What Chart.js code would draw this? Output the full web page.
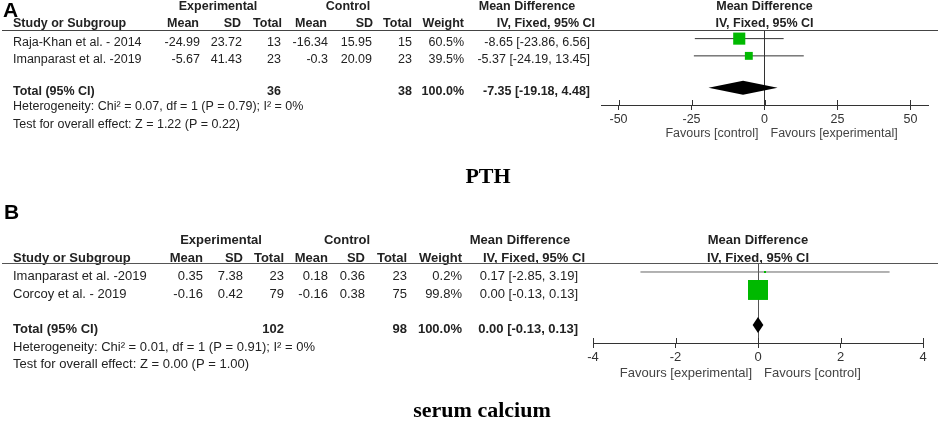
<!DOCTYPE html>
<html>
<head>
<meta charset="utf-8">
<script src="https://cdn.jsdelivr.net/npm/chart.js"></script>
<style>
  html, body { margin: 0; padding: 0; background: #fff; }
  #wrap { position: relative; width: 941px; height: 424px; }
  #wrap canvas { position: absolute; left: 0; top: 0; }
</style>
</head>
<body>
<div id="wrap">
  <canvas id="chartA" width="941" height="424"></canvas>
  <canvas id="chartB" width="941" height="424"></canvas>
</div>
<script>
// Panel A: PTH
const studiesA = ["Raja-Khan et al. - 2014", "Imanparast et al. -2019"];
const expMeanA = [-24.99, -5.67];
const expSdA = [23.72, 41.43];
const expNA = [13, 23];
const ctlMeanA = [-16.34, -0.3];
const ctlSdA = [15.95, 20.09];
const ctlNA = [15, 23];
const weightA = [60.5, 39.5];
const mdA = [-8.65, -5.37];
const loA = [-23.86, -24.19];
const hiA = [6.56, 13.45];
const pooledA = [-7.35, -19.18, 4.48]; // estimate, lower, upper
const ticksA = [-50, -25, 0, 25, 50];
const favoursA = ["Favours [control]", "Favours [experimental]"];
const hetA = "Heterogeneity: Chi² = 0.07, df = 1 (P = 0.79); I² = 0%";
const testA = "Test for overall effect: Z = 1.22 (P = 0.22)";

// Panel B: serum calcium
const studiesB = ["Imanparast et al. -2019", "Corcoy et al. - 2019"];
const expMeanB = [0.35, -0.16];
const expSdB = [7.38, 0.42];
const expNB = [23, 79];
const ctlMeanB = [0.18, -0.16];
const ctlSdB = [0.36, 0.38];
const ctlNB = [23, 75];
const weightB = [0.2, 99.8];
const mdB = [0.17, 0.00];
const loB = [-2.85, -0.13];
const hiB = [3.19, 0.13];
const pooledB = [0.00, -0.13, 0.13];
const ticksB = [-4, -2, 0, 2, 4];
const favoursB = ["Favours [experimental]", "Favours [control]"];
const hetB = "Heterogeneity: Chi² = 0.01, df = 1 (P = 0.91); I² = 0%";
const testB = "Test for overall effect: Z = 0.00 (P = 1.00)";

const colHeads = ["Mean", "SD", "Total", "Mean", "SD", "Total", "Weight", "IV, Fixed, 95% CI"];

const FONT = "'Liberation Sans', Arial, sans-serif";
const SERIF = "'Liberation Serif', 'Times New Roman', serif";
const W = 941, H = 424;

const sum = a => a.reduce((s, v) => s + v, 0);
const ci = (m, lo, hi) => m.toFixed(2) + " [" + lo.toFixed(2) + ", " + hi.toFixed(2) + "]";

// table text, diamond and the bits chart.js can't draw itself
function decor(d, L) {
  return {
    id: "decor",
    afterDatasetsDraw(chart) {
      const ctx = chart.ctx, xs = chart.scales.x, ys = chart.scales.y;
      const area = chart.chartArea;
      const txt = (s, x, y, align, bold, size, color, fam) => {
        ctx.font = (bold ? "bold " : "") + (size || L.font) + "px " + (fam || FONT);
        ctx.textAlign = align;
        ctx.fillStyle = color || "#222";
        ctx.fillText(s, x, y);
      };
      ctx.save();
      ctx.textBaseline = "middle";
      const x0 = xs.getPixelForValue(0);

      txt(d.letter, L.letterX, L.letterY, "left", true, 21, "#000");

      txt("Experimental", L.grpX[0], L.grpY, "center", true);
      txt("Control", L.grpX[1], L.grpY, "center", true);
      txt("Mean Difference", L.grpX[2], L.grpY, "center", true);
      txt("Mean Difference", x0, L.grpY, "center", true);

      txt("Study or Subgroup", L.left, L.hdrY, "left", true);
      colHeads.forEach((h, i) => txt(h, L.hdrRight[i], L.hdrY, "right", true));
      txt("IV, Fixed, 95% CI", x0, L.hdrY, "center", true);

      ctx.strokeStyle = L.rule;
      ctx.lineWidth = 1;
      ctx.beginPath();
      ctx.moveTo(2, Math.round(area.top) + 0.5);
      ctx.lineTo(938, Math.round(area.top) + 0.5);
      ctx.stroke();

      d.studies.forEach((s, i) => {
        const y = ys.getPixelForValue(L.rows[i]) + L.textDy;
        txt(s, L.left, y, "left", false);
        const cells = [
          String(d.expMean[i]), String(d.expSd[i]), String(d.expN[i]),
          String(d.ctlMean[i]), String(d.ctlSd[i]), String(d.ctlN[i]),
          d.weight[i].toFixed(1) + "%", ci(d.md[i], d.lo[i], d.hi[i])
        ];
        cells.forEach((c, j) => txt(c, L.colRight[j], y, "right", false));
      });

      const ty = ys.getPixelForValue(L.totalRow) + L.textDy;
      txt("Total (95% CI)", L.left, ty, "left", true);
      txt(String(sum(d.expN)), L.colRight[2], ty, "right", true);
      txt(String(sum(d.ctlN)), L.colRight[5], ty, "right", true);
      txt(sum(d.weight).toFixed(1) + "%", L.colRight[6], ty, "right", true);
      txt(ci(d.pooled[0], d.pooled[1], d.pooled[2]), L.colRight[7], ty, "right", true);

      txt(d.het, L.left, L.hetY, "left", false);
      txt(d.test, L.left, L.testY, "left", false);

      // pooled diamond
      const cy = ys.getPixelForValue(L.totalRow);
      ctx.fillStyle = "#000";
      ctx.beginPath();
      ctx.moveTo(xs.getPixelForValue(d.pooled[1]), cy);
      ctx.lineTo(xs.getPixelForValue(d.pooled[0]), cy - L.dia);
      ctx.lineTo(xs.getPixelForValue(d.pooled[2]), cy);
      ctx.lineTo(xs.getPixelForValue(d.pooled[0]), cy + L.dia);
      ctx.closePath();
      ctx.fill();

      // upper half of the axis ticks
      ctx.strokeStyle = "#333";
      d.ticks.forEach(v => {
        const x = Math.round(xs.getPixelForValue(v)) + 0.5;
        ctx.beginPath();
        ctx.moveTo(x, area.bottom - 5);
        ctx.lineTo(x, area.bottom);
        ctx.stroke();
      });

      txt(d.favours[0], x0 - 6, L.favY, "right", false, L.font, "#444");
      txt(d.favours[1], x0 + 6, L.favY, "left", false, L.font, "#444");

      txt(d.title, L.titleX, L.titleY, "center", true, 22, "#000", SERIF);
      ctx.restore();
    }
  };
}

function forest(id, d, L) {
  const datasets = [{
    type: "scatter",
    data: d.md.map((m, i) => ({ x: m, y: L.rows[i] })),
    pointStyle: "rect",
    pointRadius: c => Math.max(2, d.weight[c.dataIndex] * 0.2) / Math.SQRT2,
    backgroundColor: "#00b900",
    borderWidth: 0,
    order: 0
  }];
  d.lo.forEach((lo, i) => datasets.push({
    type: "line",
    data: [{ x: lo, y: L.rows[i] }, { x: d.hi[i], y: L.rows[i] }],
    borderColor: L.ciColor,
    borderWidth: 1,
    pointRadius: 0,
    order: 1
  }));

  new Chart(id, {
    data: { datasets: datasets },
    options: {
      responsive: false,
      animation: false,
      events: [],
      layout: { padding: { left: L.left0, right: W - L.right0, top: L.top0, bottom: H - L.axisY - 20 } },
      plugins: { legend: { display: false }, tooltip: { enabled: false } },
      scales: {
        x: {
          type: "linear",
          min: L.xMin,
          max: L.xMax,
          afterBuildTicks: s => { s.ticks = d.ticks.map(v => ({ value: v })); },
          afterFit: s => { s.height = 20; },
          border: { display: true, color: "#333", width: 1 },
          grid: {
            drawOnChartArea: true,
            color: c => (c.tick && c.tick.value === 0) ? L.zeroColor : "rgba(0,0,0,0)",
            tickColor: "#333",
            tickLength: 5
          },
          ticks: { font: { family: FONT, size: L.font }, color: "#333", padding: 2, maxRotation: 0, autoSkip: false }
        },
        y: { type: "linear", display: false, reverse: true, min: L.yMin, max: L.yMax }
      }
    },
    plugins: [decor(d, L)]
  });
}

forest("chartA", {
  letter: "A", title: "PTH",
  studies: studiesA, expMean: expMeanA, expSd: expSdA, expN: expNA,
  ctlMean: ctlMeanA, ctlSd: ctlSdA, ctlN: ctlNA, weight: weightA,
  md: mdA, lo: loA, hi: hiA, pooled: pooledA, ticks: ticksA,
  favours: favoursA, het: hetA, test: testA
}, {
  font: 12.5, left: 13, letterX: 3, letterY: 11,
  grpY: 7, grpX: [218, 348, 527], hdrY: 24,
  hdrRight: [199, 241, 282, 327, 373, 412, 464, 595],
  colRight: [200, 242, 281, 328, 372, 412, 464, 590],
  rows: [1, 2], totalRow: 3.85, textDy: 3.5, hetY: 107, testY: 125,
  left0: 601, right0: 928, top0: 30, axisY: 105,
  xMin: -56, xMax: 56, yMin: 0.5, yMax: 4.85,
  dia: 7, favY: 134, titleX: 488, titleY: 177,
  rule: "#444", ciColor: "#333", zeroColor: "#333"
});

forest("chartB", {
  letter: "B", title: "serum calcium",
  studies: studiesB, expMean: expMeanB, expSd: expSdB, expN: expNB,
  ctlMean: ctlMeanB, ctlSd: ctlSdB, ctlN: ctlNB, weight: weightB,
  md: mdB, lo: loB, hi: hiB, pooled: pooledB, ticks: ticksB,
  favours: favoursB, het: hetB, test: testB
}, {
  font: 13, left: 13, letterX: 4, letterY: 213,
  grpY: 240, grpX: [221, 347, 520], hdrY: 258,
  hdrRight: [203, 243, 284, 328, 365, 407, 462, 585],
  colRight: [203, 243, 284, 328, 365, 407, 462, 578],
  rows: [1, 2], totalRow: 3.95, textDy: 4, hetY: 347, testY: 364,
  left0: 593, right0: 923, top0: 263, axisY: 343,
  xMin: -4, xMax: 4, yMin: 0.5, yMax: 4.95,
  dia: 8, favY: 373, titleX: 482, titleY: 411,
  rule: "#555", ciColor: "#666", zeroColor: "#555"
});
</script>
</body>
</html>
